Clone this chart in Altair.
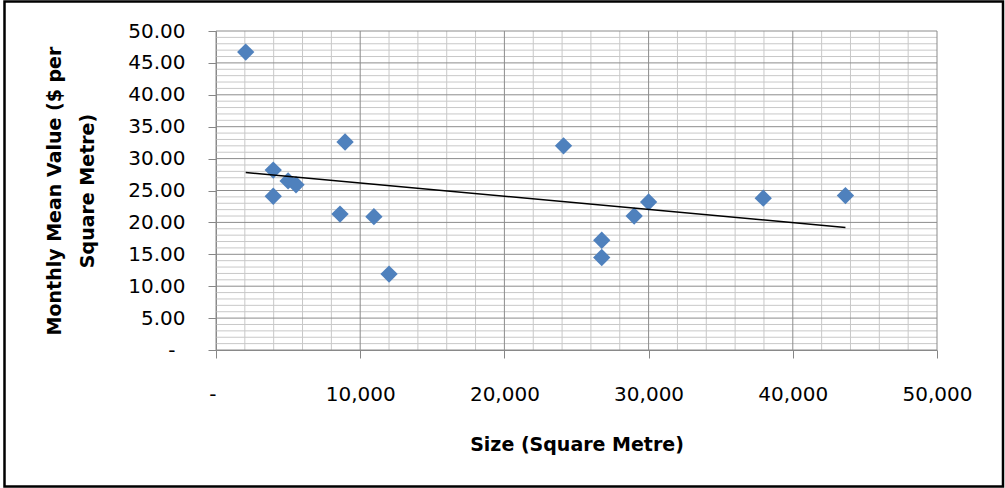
import altair as alt
import pandas as pd

# Data
SIZE_M2 = [2060, 3970, 3970, 5000, 5550, 8600, 8950, 10950, 12000,
           24100, 26750, 26750, 29000, 30000, 37950, 43650]
MEAN_VALUE = [46.7, 28.2, 24.1, 26.5, 25.9, 21.3, 32.6, 20.9, 11.9,
              32.0, 17.2, 14.5, 21.0, 23.2, 23.8, 24.2]

X_MAJOR = [0, 10000, 20000, 30000, 40000, 50000]
Y_MAJOR = [0, 5, 10, 15, 20, 25, 30, 35, 40, 45, 50]
X_MINOR = [v for v in range(0, 50001, 2000) if v % 10000 != 0]
Y_MINOR = [v for v in range(0, 51) if v % 5 != 0]

W, H = 721, 319
FONT = "DejaVu Sans"
BLUE = "#4F81BD"
MAJOR_C = "#8c8c8c"
MINOR_C = "#c8c8c8"
AXIS_C = "#868686"

pts = pd.DataFrame({"size": SIZE_M2, "value": MEAN_VALUE})

xs = alt.Scale(domain=[0, 50000], nice=False, zero=False)
ys = alt.Scale(domain=[0, 50], nice=False, zero=False)

X_AXIS = alt.Axis(
    values=X_MAJOR, grid=False, title="Size (Square Metre)",
    labelExpr="datum.value == 0 ? '-' : format(datum.value, ',')",
    labelAlign={"condition": {"test": "datum.value == 0", "value": "right"}, "value": "center"},
    labelFont=FONT, labelFontSize=20, labelColor="#000", labelPadding=26,
    tickSize=8, tickColor=AXIS_C, domainColor=AXIS_C,
    titleFont=FONT, titleFontSize=19, titleFontWeight="bold", titleColor="#000",
    titleBaseline="alphabetic", titleY=100, titleX=W / 2,
)
Y_AXIS = alt.Axis(
    values=Y_MAJOR, grid=False,
    title=["Monthly Mean Value ($ per", "Square Metre)"],
    labelExpr="datum.value == 0 ? '-' : format(datum.value, '.2f')",
    labelPadding={"condition": {"test": "datum.value == 0", "value": 33}, "value": 23},
    labelFont=FONT, labelFontSize=20, labelColor="#000",
    tickSize=8, tickColor=AXIS_C, domainColor=AXIS_C,
    titleFont=FONT, titleFontSize=19, titleFontWeight="bold", titleColor="#000",
    titleAngle=270, titleBaseline="middle", titleLineHeight=33,
    titleX=-162, titleY=H / 2,
)

XE = alt.X("size:Q", scale=xs, axis=X_AXIS)
YE = alt.Y("value:Q", scale=ys, axis=Y_AXIS)


def vrules(vals, color):
    return alt.Chart(pd.DataFrame({"size": vals})).mark_rule(color=color, strokeWidth=1).encode(
        x=XE, y=alt.value(0), y2=alt.value(H))


def hrules(vals, color):
    return alt.Chart(pd.DataFrame({"value": vals})).mark_rule(color=color, strokeWidth=1).encode(
        y=YE, x=alt.value(0), x2=alt.value(W))


points = alt.Chart(pts).mark_point(
    shape="diamond", filled=True, size=300, color=BLUE, opacity=1
).encode(x=XE, y=YE)

trend = alt.Chart(pts).transform_regression("size", "value").mark_line(
    color="#000", strokeWidth=1.5
).encode(x=XE, y=YE)

frame = alt.Chart(alt.Data(values=[{"a": 1}])).mark_rect(
    filled=False, stroke="#000", strokeWidth=2.5
).encode(x=alt.value(-211.5), x2=alt.value(787), y=alt.value(-29.5), y2=alt.value(455.5))

chart = alt.layer(
    vrules(X_MINOR, MINOR_C), hrules(Y_MINOR, MINOR_C),
    vrules(X_MAJOR, MAJOR_C), hrules(Y_MAJOR, MAJOR_C),
    points, trend, frame,
).properties(
    width=W, height=H,
    autosize=alt.AutoSizeParams(type="none"),
    padding={"left": 216, "top": 31, "right": 68, "bottom": 138},
    background="white",
).configure_view(strokeWidth=0)

chart.save("out.html", embed_options={"renderer": "svg", "actions": False})
